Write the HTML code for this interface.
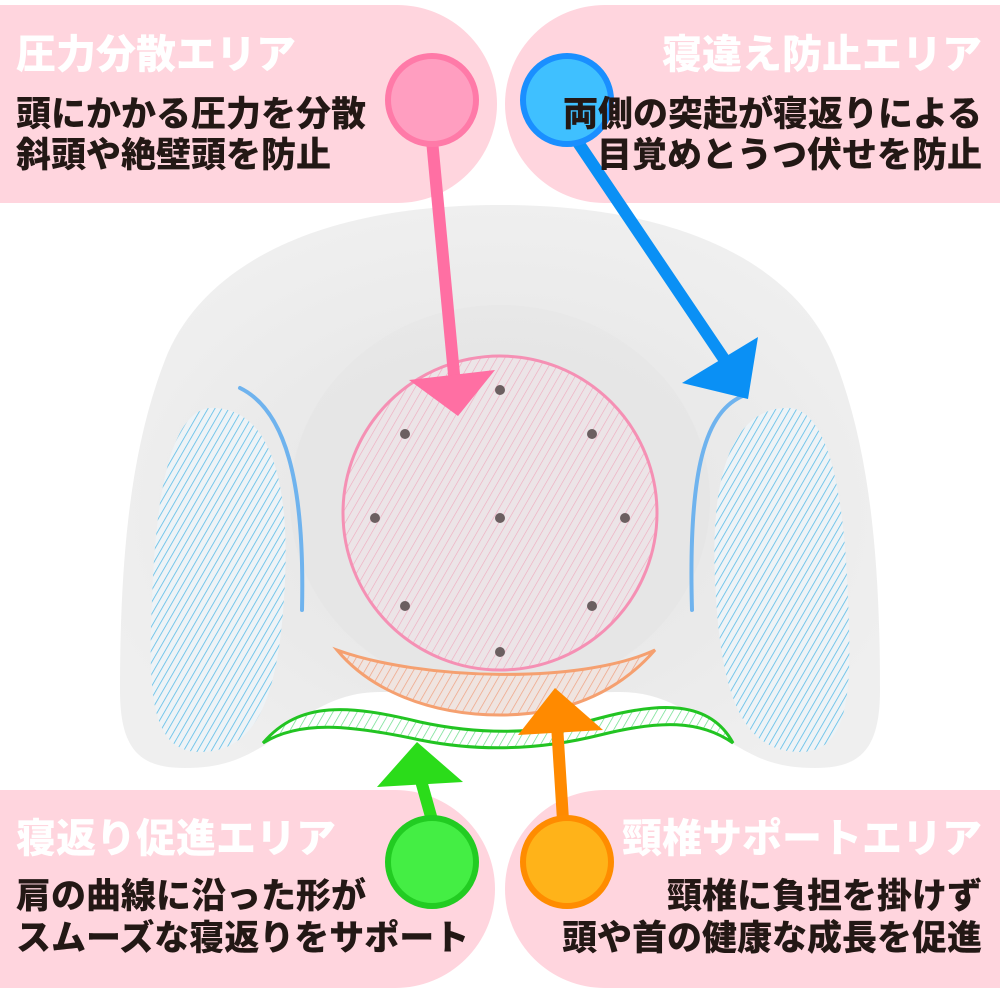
<!DOCTYPE html>
<html><head><meta charset="utf-8"><style>
html,body{margin:0;padding:0;background:#fff;}
svg{display:block;}
text{font-family:"Liberation Sans","Noto Sans CJK JP",sans-serif;font-weight:900;}
</style></head><body>
<svg width="1000" height="1000" viewBox="0 0 1000 1000" xmlns="http://www.w3.org/2000/svg">
<defs>
<pattern id="hb" width="6" height="6" patternUnits="userSpaceOnUse" patternTransform="rotate(30)"><rect width="6" height="6" fill="#eef3f6"/><line x1="0" y1="0" x2="0" y2="6" stroke="#5bbde8" stroke-width="1.6"/></pattern>
<pattern id="hp" width="7" height="7" patternUnits="userSpaceOnUse" patternTransform="rotate(30)"><rect width="7" height="7" fill="#ece4e7"/><line x1="0" y1="0" x2="0" y2="7" stroke="#f0a8bd" stroke-width="1.2"/></pattern>
<pattern id="ho" width="7" height="7" patternUnits="userSpaceOnUse" patternTransform="rotate(30)"><rect width="7" height="7" fill="#efe4e0"/><line x1="0" y1="0" x2="0" y2="7" stroke="#f0a080" stroke-width="1.4"/></pattern>
<pattern id="hg" width="7" height="7" patternUnits="userSpaceOnUse" patternTransform="rotate(30)"><rect width="7" height="7" fill="#fff"/><line x1="0" y1="0" x2="0" y2="7" stroke="#66dd88" stroke-width="1.4"/></pattern>
<radialGradient id="pg" cx="0.5" cy="0.55" r="0.55"><stop offset="0" stop-color="#e4e4e4"/><stop offset="0.6" stop-color="#eaeaea"/><stop offset="1" stop-color="#efefef"/></radialGradient>
</defs>
<path d="M-10 5 H397 A100 99 0 0 1 397 203 H-10 Z" fill="#ffd5de"/>
<path d="M1010 5 H605 A100 99 0 0 0 605 203 H1010 Z" fill="#ffd5de"/>
<path d="M-10 790 H395 A100 99 0 0 1 395 988 H-10 Z" fill="#ffd5de"/>
<path d="M1010 790 H605 A100 99 0 0 0 605 988 H1010 Z" fill="#ffd5de"/>
<path d="M500 205 C690 205 800 270 835 360 C870 450 880 560 880 690 C880 750 860 768 815 768 C780 768 760 760 735 745 C700 720 670 692 620 692 C560 692 540 704 500 704 C460 704 440 692 380 692 C330 692 300 720 265 745 C240 760 220 768 185 768 C140 768 120 750 120 690 C120 560 130 450 165 360 C200 270 310 205 500 205 Z" fill="url(#pg)"/>
<ellipse cx="500" cy="500" rx="210" ry="195" fill="#e3e3e3" opacity="0.35"/>
<path d="M215 408 C265 410 290 470 285 580 C280 690 260 752 200 752 C150 752 148 690 152 600 C156 480 175 405 215 408 Z" fill="url(#hb)"/>
<path d="M785 408 C735 410 710 470 715 580 C720 690 740 752 800 752 C850 752 852 690 848 600 C844 480 825 405 785 408 Z" fill="url(#hb)"/>
<path d="M240 388 C285 410 305 480 302 610" fill="none" stroke="#6fb3ee" stroke-width="4" stroke-linecap="round"/>
<path d="M745 395 C705 410 688 470 692 610" fill="none" stroke="#6fb3ee" stroke-width="4" stroke-linecap="round"/>
<circle cx="500" cy="513" r="157" fill="url(#hp)" stroke="#f590b4" stroke-width="3"/>
<g fill="#6b5f60">
<circle cx="500" cy="390" r="5"/><circle cx="405" cy="434" r="5"/><circle cx="592" cy="434" r="5"/>
<circle cx="375" cy="518" r="5"/><circle cx="500" cy="518" r="5"/><circle cx="625" cy="518" r="5"/>
<circle cx="405" cy="606" r="5"/><circle cx="592" cy="606" r="5"/><circle cx="500" cy="652" r="5"/>
</g>
<path d="M337 650 C420 680 580 685 655 650 C620 690 570 715 500 715 C430 715 370 690 337 650 Z" fill="url(#ho)" stroke="#f5a070" stroke-width="3"/>
<path d="M263 743 C300 700 350 705 420 722 C480 735 540 735 600 718 C660 702 710 700 733 743 C700 720 660 720 600 735 C540 750 480 752 420 740 C350 725 300 720 263 743 Z" fill="url(#hg)" stroke="#22c422" stroke-width="3"/>
<line x1="432" y1="140" x2="455" y2="385" stroke="#ff6fa3" stroke-width="12"/>
<polygon points="409,380 495,370 458,416" fill="#ff6fa3"/>
<circle cx="432" cy="100" r="44" fill="#ff9ec0" stroke="#ff7aa8" stroke-width="6"/>
<line x1="575" y1="138" x2="728" y2="365" stroke="#0a90f5" stroke-width="12"/>
<polygon points="682,383 758,337 748,399" fill="#0a90f5"/>
<circle cx="567" cy="100" r="44" fill="#3fc0ff" stroke="#1a8fff" stroke-width="6"/>
<line x1="432" y1="820" x2="418" y2="770" stroke="#2bdc1a" stroke-width="12"/>
<polygon points="377,787 463,782 417,742" fill="#2bdc1a"/>
<circle cx="432" cy="862" r="44" fill="#44ee44" stroke="#22cc22" stroke-width="6"/>
<line x1="563" y1="820" x2="557" y2="725" stroke="#ff8a00" stroke-width="12"/>
<polygon points="518,735 603,730 555,688" fill="#ff8a00"/>
<circle cx="567" cy="862" r="44" fill="#ffb319" stroke="#ff8c00" stroke-width="6"/>
<g font-size="40" fill="#fff">
<text x="16" y="68">圧力分散エリア</text>
<text x="982" y="68" text-anchor="end">寝違え防止エリア</text>
<text x="16" y="852">寝返り促進エリア</text>
<text x="982" y="852" text-anchor="end">頸椎サポートエリア</text>
</g>
<g font-size="35" fill="#231815">
<text x="16" y="126">頭にかかる圧力を分散</text>
<text x="16" y="167">斜頭や絶壁頭を防止</text>
<text x="982" y="126" text-anchor="end">両側の突起が寝返りによる</text>
<text x="982" y="167" text-anchor="end">目覚めとうつ伏せを防止</text>
<text x="16" y="908">肩の曲線に沿った形が</text>
<text x="16" y="950">スムーズな寝返りをサポート</text>
<text x="982" y="908" text-anchor="end">頸椎に負担を掛けず</text>
<text x="982" y="950" text-anchor="end">頭や首の健康な成長を促進</text>
</g>
</svg>
</body></html>
